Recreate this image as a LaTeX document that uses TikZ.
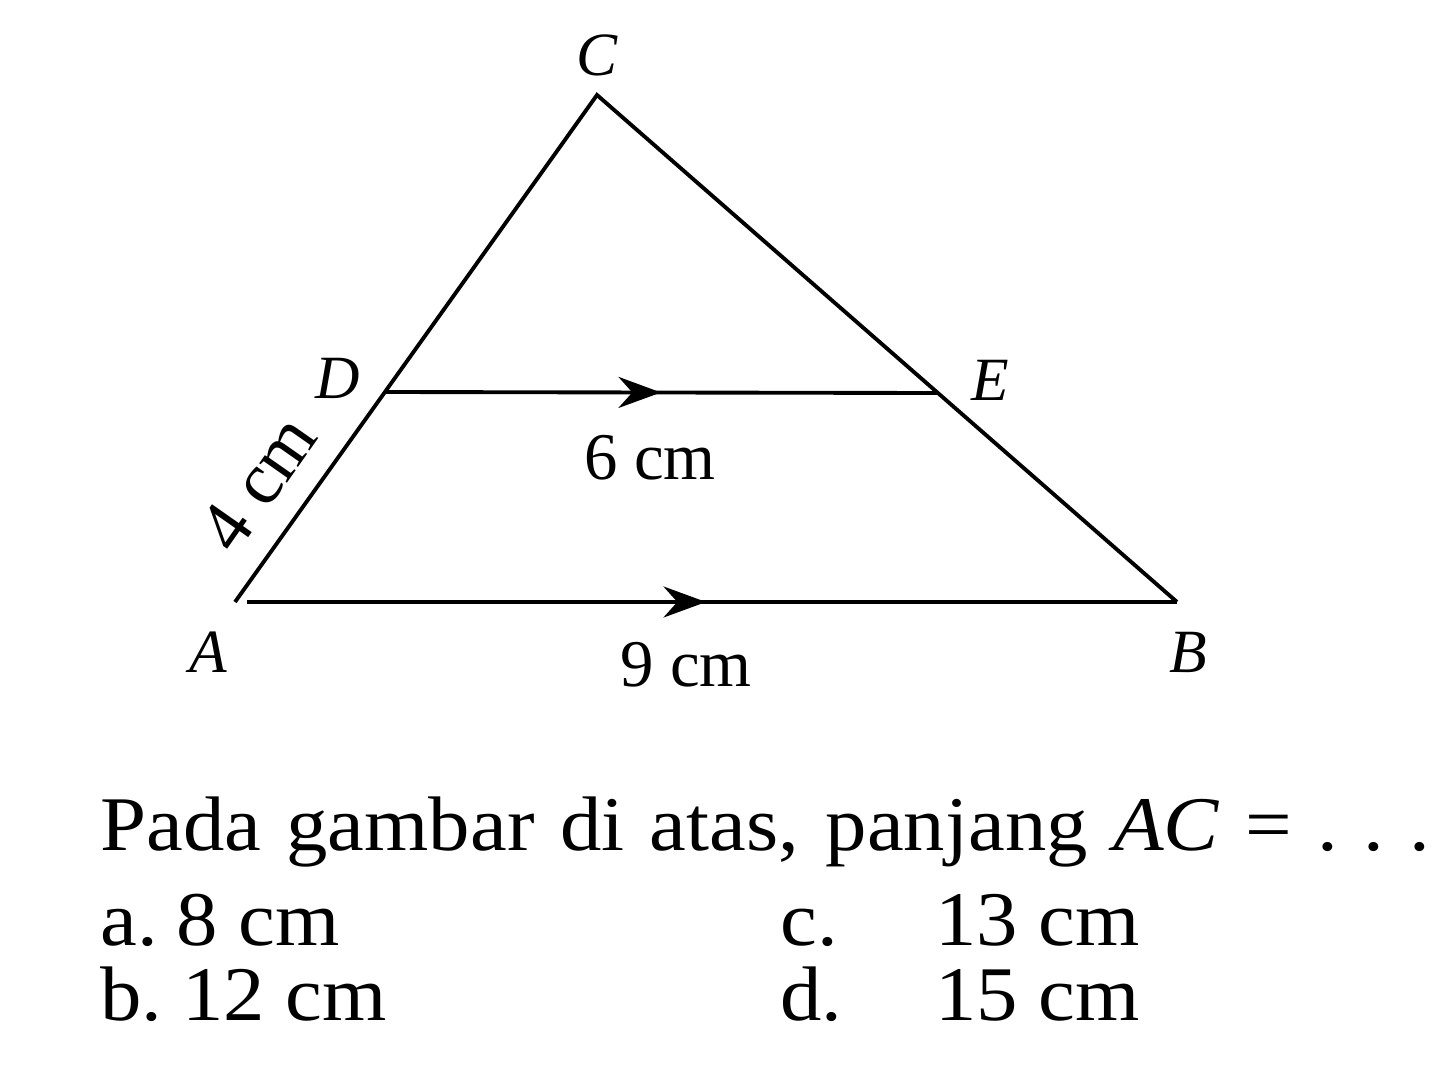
\documentclass[tikz,border=0pt]{standalone}
\usepackage{fontspec}
\setmainfont{Liberation Serif}
\newfontfamily\qfont[FakeStretch=1.07]{Liberation Serif}
\usepackage{tikz}
\usetikzlibrary{arrows.meta}
\usetikzlibrary{decorations.markings}

\tikzset{
  side/.style={line width=2.2pt},
  midarrow/.style={postaction={decorate},
    decoration={markings, mark=at position 0.5 with {\arrow{Stealth[length=0.85cm,width=0.62cm]}}}},
  vlabel/.style={font=\fontsize{35}{40}\selectfont\itshape},
  lenlabel/.style={font=\fontsize{38}{44}\selectfont},
  qtext/.style={font=\qfont\fontsize{44}{50}\selectfont, anchor=base west, inner sep=0pt}
}

\begin{document}
\begin{tikzpicture}[x=0.02cm,y=-0.02cm]
\useasboundingbox (0,0) rectangle (1455,1082);

% corners of the triangle
\coordinate (A) at (235,602);
\coordinate (B) at (1177,602);
\coordinate (C) at (597,95);
\coordinate (D) at (385,392);
\coordinate (E) at (937,393);

\draw [side, line join=miter] (A) -- (C) -- (B);
\draw [side, midarrow] (D) -- (E);
\draw [side, midarrow, shorten <=0.25cm] (A) -- (B);

% letters
\node [vlabel] (lC) at (597,55) {C};
\node [vlabel] (lD) at (338,378) {D};
\node [vlabel] (lE) at (990,380) {E};
\node [vlabel] (lA) at (208,652) {A};
\node [vlabel] (lB) at (1188,652) {B};

% lengths
\node [lenlabel] (lDE) at (650,458) {6 cm};
\node [lenlabel] (lAB) at (686,665) {9 cm};
\node [lenlabel, font=\fontsize{42}{48}\selectfont, rotate=55] (lAD) at (258,483) {4 cm};

% question
\node [qtext] (quest) at (100,850) {\makebox[26.6cm][s]{Pada gambar di atas, panjang \textit{AC} = .\ .\ .}};
\node [qtext] (optA) at (100,945) {a.};
\node [qtext] (valA) at (176,945) {8 cm};
\node [qtext] (optB) at (100,1020) {b.};
\node [qtext] (valB) at (182,1020) {12 cm};
\node [qtext] (optC) at (780,945) {c.};
\node [qtext] (valC) at (935,945) {13 cm};
\node [qtext] (optD) at (780,1020) {d.};
\node [qtext] (valD) at (935,1020) {15 cm};
\end{tikzpicture}
\end{document}
